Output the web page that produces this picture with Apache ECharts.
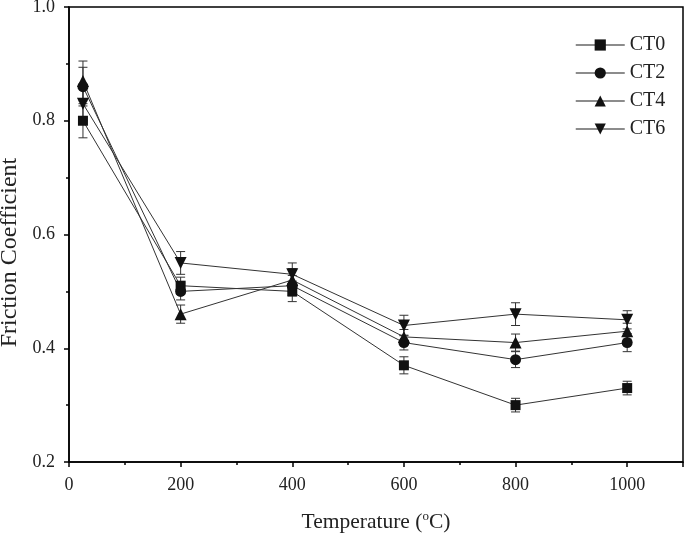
<!DOCTYPE html>
<html><head><meta charset="utf-8">
<script src="https://cdn.jsdelivr.net/npm/echarts@6/dist/echarts.min.js"></script>
<style>html,body{margin:0;padding:0;background:#fff}#c{width:685px;height:534px}</style>
</head><body><div id="c"></div>
<script>
var temps = [25, 200, 400, 600, 800, 1000];
var seriesNames = ['CT0', 'CT2', 'CT4', 'CT6'];
var ct0 = [0.80, 0.51, 0.50, 0.37, 0.30, 0.33];
var ct2 = [0.86, 0.50, 0.51, 0.41, 0.38, 0.41];
var ct4 = [0.87, 0.46, 0.52, 0.42, 0.41, 0.43];
var ct6 = [0.83, 0.55, 0.53, 0.44, 0.46, 0.45];
var err0 = [0.030, 0.015, 0.018, 0.015, 0.012, 0.012];
var err2 = [0.034, 0.015, 0.018, 0.013, 0.014, 0.016];
var err4 = [0.035, 0.016, 0.020, 0.013, 0.015, 0.014];
var err6 = [0.030, 0.020, 0.020, 0.018, 0.020, 0.016];
var symbols = ['rect', 'circle', 'triangle', 'path://M0,0 L10,0 L5,8.66 Z'];
var yTicks = [0.2, 0.4, 0.6, 0.8, 1.0];

var values = [ct0, ct2, ct4, ct6];
var errs = [err0, err2, err4, err6];
var FONT = 'Liberation Serif';

var series = [];
values.forEach(function (vals, i) {
  series.push({
    name: seriesNames[i], type: 'line',
    data: temps.map(function (t, k) { return [t, vals[k]]; }),
    symbol: symbols[i], symbolSize: i === 0 ? 10 : (i === 1 ? 11 : 12),
    itemStyle: { color: '#111' },
    lineStyle: { color: '#333', width: 1 },
    z: 3
  });
  series.push({
    type: 'custom',
    data: temps.map(function (t, k) { return [t, vals[k] - errs[i][k], vals[k] + errs[i][k]]; }),
    renderItem: function (params, api) {
      var lo = api.coord([api.value(0), api.value(1)]);
      var hi = api.coord([api.value(0), api.value(2)]);
      var w = 4.5;
      var st = { stroke: '#333', lineWidth: 1 };
      return { type: 'group', children: [
        { type: 'line', shape: { x1: lo[0], y1: lo[1], x2: hi[0], y2: hi[1] }, style: st },
        { type: 'line', shape: { x1: lo[0] - w, y1: lo[1], x2: lo[0] + w, y2: lo[1] }, style: st },
        { type: 'line', shape: { x1: hi[0] - w, y1: hi[1], x2: hi[0] + w, y2: hi[1] }, style: st }
      ]};
    },
    encode: { x: 0, y: [1, 2] },
    silent: true, z: 2
  });
});

var chart = echarts.init(document.getElementById('c'));
chart.setOption({
  animation: false,
  backgroundColor: '#fff',
  textStyle: { fontFamily: FONT },
  grid: { left: 69, right: 2, top: 7, bottom: 72, containLabel: false, outerBoundsMode: 'none',
    show: true, borderColor: '#000', borderWidth: 1.5, backgroundColor: 'transparent' },
  legend: {
    data: seriesNames.map(function (n) { return { name: n, itemStyle: { color: '#111' }, lineStyle: { color: '#666', width: 1.5 } }; }),
    orient: 'vertical', left: 570, top: 30, itemGap: 8, itemWidth: 49, itemHeight: 14,
    textStyle: { fontFamily: FONT, fontSize: 20, color: '#222', lineHeight: 20 }
  },
  xAxis: {
    type: 'value', min: 0, max: 1100, interval: 200,
    name: 'Temperature ({sup|o}C)', nameLocation: 'middle', nameGap: 48,
    nameTextStyle: { fontFamily: FONT, fontSize: 21.5, color: '#222',
      rich: { sup: { fontFamily: FONT, fontSize: 13, color: '#222', verticalAlign: 'top', padding: [0, 0, 11, 0] } } },
    axisLine: { lineStyle: { color: '#000', width: 1.5 } },
    axisTick: { inside: false, length: 5, lineStyle: { color: '#000', width: 1.5 } },
    minorTick: { show: true, splitNumber: 2, length: 3, lineStyle: { color: '#000', width: 1.5 } },
    axisLabel: { fontFamily: FONT, fontSize: 18, color: '#222', margin: 14,
      formatter: function (v) { return v > 1000 ? '' : String(v); } },
    splitLine: { show: false }
  },
  yAxis: {
    type: 'value', min: 0.2, max: 1.0, interval: 0.2,
    name: 'Friction Coefficient', nameLocation: 'middle', nameGap: 47,
    nameTextStyle: { fontFamily: FONT, fontSize: 24, color: '#222', padding: [0, 36, 0, 0] },
    axisLine: { lineStyle: { color: '#000', width: 1.5 } },
    axisTick: { inside: false, length: 5, lineStyle: { color: '#000', width: 1.5 } },
    minorTick: { show: true, splitNumber: 2, length: 3, lineStyle: { color: '#000', width: 1.5 } },
    axisLabel: { fontFamily: FONT, fontSize: 18, color: '#222', margin: 14,
      formatter: function (v) {
        for (var i = 0; i < yTicks.length; i++) { if (Math.abs(yTicks[i] - v) < 1e-9) return yTicks[i].toFixed(1); }
        return '';
      } },
    splitLine: { show: false }
  },
  series: series
});
</script></body></html>
